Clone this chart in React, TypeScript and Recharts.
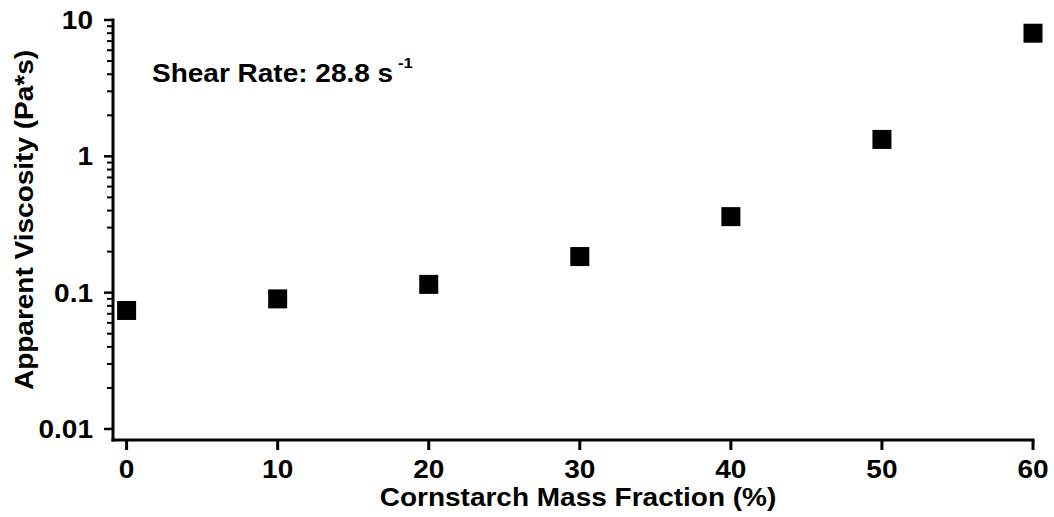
// Apparent viscosity vs cornstarch mass fraction, log y axis
import { ScatterChart, Scatter, XAxis, YAxis } from 'recharts';

const massFraction = [0, 10, 20, 30, 40, 50, 60];
const viscosity = [0.074, 0.090, 0.115, 0.184, 0.361, 1.33, 8.0];

const xTicks = [0, 10, 20, 30, 40, 50, 60];
const yMajorTicks = [0.01, 0.1, 1, 10];
const yMinorSteps = [2, 3, 4, 5, 6, 7, 8, 9];

const shearRateLabel = 'Shear Rate: 28.8 s';
const shearRateExp = '-1';
const xTitle = 'Cornstarch Mass Fraction (%)';
const yTitle = 'Apparent Viscosity (Pa*s)';

const points = massFraction.map((x, i) => ({ x, y: viscosity[i] }));

// minor ticks between the labelled powers of ten
const yTicks = [
  ...yMajorTicks,
  ...yMajorTicks.slice(0, -1).flatMap((d) => yMinorSteps.map((s) => +(d * s).toPrecision(3))),
].sort((a, b) => a - b);

const FONT = 'Liberation Sans, Arial, Helvetica, sans-serif';
const STRETCH = 1.12;

const Txt = ({ x, y, anchor = 'start', size = 25, rotate = 0, children }: any) => (
  <text
    transform={`translate(${x},${y}) rotate(${rotate}) scale(${STRETCH},1)`}
    textAnchor={anchor}
    fontFamily={FONT}
    fontWeight="bold"
    fontSize={size}
    fill="#000"
  >
    {children}
  </text>
);

const XTick = ({ x, y, payload }: any) => (
  <g>
    <line x1={x} y1={y} x2={x} y2={y + 10} stroke="#000" strokeWidth={3} />
    <Txt x={x} y={y + 38} anchor="middle">{payload.value}</Txt>
  </g>
);

const YTick = ({ x, y, payload }: any) => {
  const major = yMajorTicks.includes(payload.value);
  return (
    <g>
      <line
        x1={x}
        y1={y}
        x2={x - (major ? 9 : 6)}
        y2={y}
        stroke="#000"
        strokeWidth={major ? 2.5 : 2}
      />
      {major && (
        <Txt x={x - 20} y={y + 9} anchor="end">{String(payload.value)}</Txt>
      )}
    </g>
  );
};

const Square = ({ cx, cy }: any) => (
  <rect x={cx - 9.5} y={cy - 9.5} width={19} height={19} fill="#000" />
);

export default function App() {
  return (
    <div style={{ position: 'absolute', left: 0, top: 0, width: 1054, height: 517, background: '#fff' }}>
      <ScatterChart width={1054} height={517} margin={{ top: 20, right: 21, bottom: 0, left: 0 }}>
        <XAxis
          type="number"
          dataKey="x"
          domain={[-0.9, 60]}
          ticks={xTicks}
          interval={0}
          height={77}
          tickSize={0}
          tickMargin={0}
          tickLine={false}
          tick={<XTick />}
          axisLine={{ stroke: '#000', strokeWidth: 3, strokeLinecap: 'square' }}
        />
        <YAxis
          type="number"
          dataKey="y"
          scale="log"
          domain={[0.0083, 10]}
          ticks={yTicks}
          interval={0}
          width={113}
          tickSize={0}
          tickMargin={0}
          tickLine={false}
          tick={<YTick />}
          axisLine={{ stroke: '#000', strokeWidth: 3, strokeLinecap: 'square' }}
        />
        <Scatter data={points} shape={<Square />} isAnimationActive={false} />
        <Txt x={152} y={82}>{shearRateLabel}</Txt>
        <Txt x={398} y={68} size={15}>{shearRateExp}</Txt>
        <Txt x={578} y={506} anchor="middle">{xTitle}</Txt>
        <Txt x={33} y={220} anchor="middle" rotate={-90}>{yTitle}</Txt>
      </ScatterChart>
    </div>
  );
}
